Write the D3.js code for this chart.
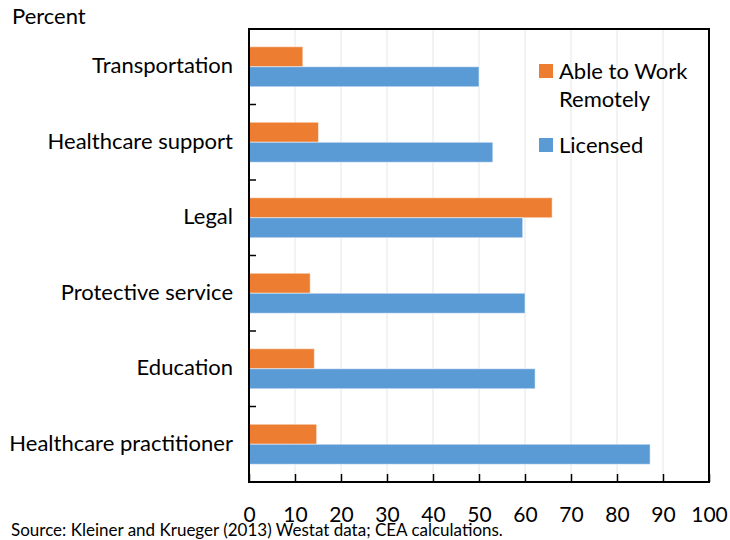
<!DOCTYPE html>
<html>
<head>
  <meta charset="utf-8" />
  <title>Licensed and Able to Work Remotely</title>
  <style type="text/css">
    body { margin: 0; background: #fff; }
    text { font-family: 'Lato', 'Open Sans', sans-serif; fill: #000; }
  </style>
</head>
<body>
  <div id="graph"></div>
  <script src="https://cdn.jsdelivr.net/npm/d3@7"></script>
  <script>
// data
var categories = ["Transportation", "Healthcare support", "Legal",
                  "Protective service", "Education", "Healthcare practitioner"];
var remote = [11.7, 15.1, 65.9, 13.3, 14.2, 14.7];
var licensed = [50.0, 53.0, 59.5, 60.0, 62.2, 87.2];
var xTicks = [0, 10, 20, 30, 40, 50, 60, 70, 80, 90, 100];
var seriesColors = ["#ED7D31", "#5B9BD5"];

var margin = {top: 29, right: 21, bottom: 58, left: 249},
    width = 730 - margin.left - margin.right,
    height = 540 - margin.top - margin.bottom;

var svg = d3.select("#graph").append("svg")
    .attr("width", 730)
    .attr("height", 540);

var g = svg.append("g")
    .attr("transform", "translate(" + margin.left + "," + margin.top + ")");

var x = d3.scaleLinear().domain([0, 100]).range([0, width]);
var y = d3.scaleBand().domain(categories).range([0, height]).padding(0);
var yInner = d3.scaleBand().domain([0, 1])
    .range([y.bandwidth() / 2 - 20, y.bandwidth() / 2 + 20]);

// gridlines
g.selectAll(".grid")
    .data(xTicks.slice(1, -1))
  .enter().append("line")
    .attr("x1", function(d) { return x(d); })
    .attr("x2", function(d) { return x(d); })
    .attr("y1", 0)
    .attr("y2", height)
    .attr("stroke", "#e6e6e6")
    .attr("stroke-width", 1);

// bars
var rows = categories.map(function(c, i) { return {cat: c, vals: [remote[i], licensed[i]]}; });
var group = g.selectAll(".row")
    .data(rows)
  .enter().append("g")
    .attr("transform", function(d) { return "translate(0," + y(d.cat) + ")"; });

group.selectAll("rect")
    .data(function(d) { return d.vals.map(function(v, k) { return {v: v, k: k}; }); })
  .enter().append("rect")
    .attr("x", x(0))
    .attr("y", function(d) { return yInner(d.k); })
    .attr("width", function(d) { return x(d.v) - x(0); })
    .attr("height", yInner.bandwidth())
    .attr("fill", function(d) { return seriesColors[d.k]; })
    .attr("stroke", "#fff")
    .attr("stroke-opacity", 0.5)
    .attr("stroke-width", 1);

// x axis (ticks pointing inward)
var xAxis = g.append("g")
    .attr("transform", "translate(0," + height + ")")
    .call(d3.axisBottom(x).tickValues(xTicks).tickSizeInner(-8).tickSizeOuter(0).tickPadding(25));
xAxis.select(".domain").remove();
xAxis.selectAll(".tick line").attr("stroke", "#000").attr("stroke-width", 1.5);
xAxis.selectAll(".tick text").style("font-size", "21px").attr("fill", "#000");

// category labels
g.selectAll(".cat")
    .data(categories)
  .enter().append("text")
    .attr("x", -16)
    .attr("y", function(d) { return y(d) + y.bandwidth() / 2 - 1; })
    .attr("dy", "0.35em")
    .attr("text-anchor", "end")
    .style("font-size", "22px")
    .text(function(d) { return d; });

// category boundary ticks
g.selectAll(".ytick")
    .data(categories)
  .enter().append("line")
    .attr("x1", 0)
    .attr("x2", 7)
    .attr("y1", function(d) { return y(d); })
    .attr("y2", function(d) { return y(d); })
    .attr("stroke", "#000")
    .attr("stroke-width", 1.5);

// frame
g.append("rect")
    .attr("x", 0).attr("y", 0)
    .attr("width", width).attr("height", height)
    .attr("fill", "none")
    .attr("stroke", "#000")
    .attr("stroke-width", 2);

// legend
var legendLines = [["Able to Work", "Remotely"], ["Licensed"]];
var legend = svg.append("g").attr("transform", "translate(539,64)");
legendLines.forEach(function(lines, i) {
  var ly = i * 74;
  legend.append("rect")
      .attr("x", 0).attr("y", ly)
      .attr("width", 14).attr("height", 14)
      .attr("fill", seriesColors[i]);
  lines.forEach(function(t, j) {
    legend.append("text")
        .attr("x", 20)
        .attr("y", ly + 15 + j * 28)
        .style("font-size", "22px")
        .text(t);
  });
});

// texts
svg.append("text")
    .attr("x", 12).attr("y", 24)
    .style("font-size", "22px")
    .text("Percent");

svg.append("text")
    .attr("x", 11).attr("y", 536)
    .style("font-size", "17px")
    .text("Source: Kleiner and Krueger (2013) Westat data; CEA calculations.");
  </script>
</body>
</html>
